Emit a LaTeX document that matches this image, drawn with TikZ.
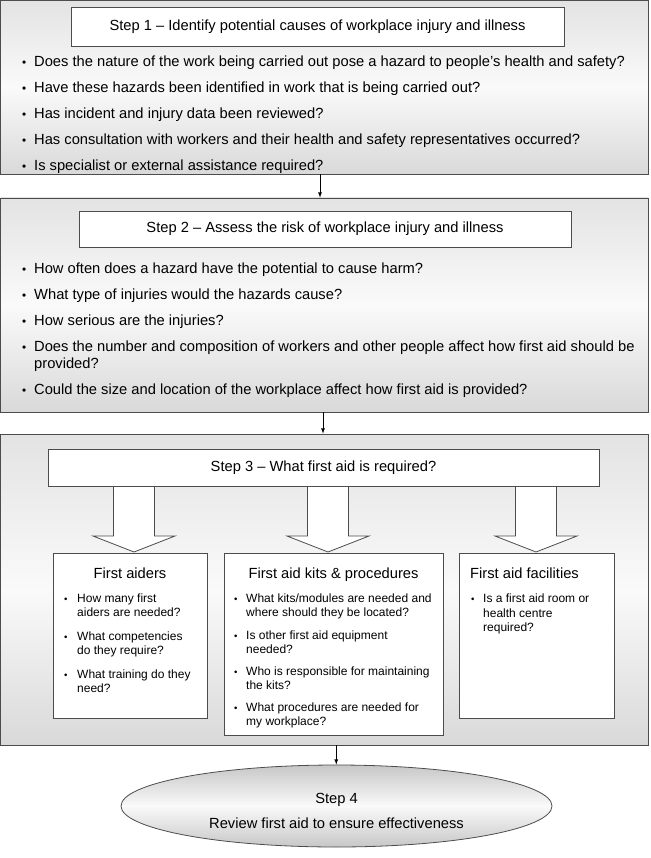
\documentclass[tikz,border=0pt]{standalone}
\usepackage{fontspec}
\setmainfont{Liberation Sans}
\usetikzlibrary{shapes.geometric,shadows}
\newcommand{\bul}[1]{\makebox[#1][l]{\scalebox{0.8}{\textbullet}}}

\begin{document}
\begin{tikzpicture}[x=1pt, y=-1pt,
    boxshadow/.style={drop shadow={shadow xshift=1.2pt, shadow yshift=-1.2pt, fill=black!55, opacity=1}},
    stepbox/.style={draw=black!70, line width=0.8pt, inner sep=0pt, boxshadow,
        top color=black!11, bottom color=black!15, middle color=black!2},
    titlebox/.style={draw=black!70, line width=0.8pt, inner sep=0pt, fill=white, boxshadow,
        text height=10.5pt, text depth=3pt, font=\fontsize{14.7}{17}\selectfont},
    subbox/.style={draw=black!70, line width=0.8pt, inner sep=0pt, fill=white, boxshadow},
    big/.style={anchor=west, inner sep=0pt, text height=10.5pt, text depth=3pt,
        font=\fontsize{14.7}{17}\selectfont},
    small/.style={anchor=west, inner sep=0pt, text height=8.6pt, text depth=2.5pt,
        font=\fontsize{12}{14}\selectfont},
    link/.style={-latex, line width=0.8pt},
]
\useasboundingbox (0,0) rectangle (650,858);

% Step 1
\node[stepbox, minimum width=647.5pt, minimum height=173.5pt] (s1) at (324.25,87.25) {};
\node[titlebox, minimum width=493pt, minimum height=39pt] (t1) at (317.5,26.5)
    {Step 1 -- Identify potential causes of workplace injury and illness};
\node[big] (i11) at (22,63) {\bul{12pt}Does the nature of the work being carried out pose a hazard to people’s health and safety?};
\node[big] (i12) at (22,89) {\bul{12pt}Have these hazards been identified in work that is being carried out?};
\node[big] (i13) at (22,115) {\bul{12pt}Has incident and injury data been reviewed?};
\node[big] (i14) at (22,141) {\bul{12pt}Has consultation with workers and their health and safety representatives occurred?};
\node[big] (i15) at (22,167) {\bul{12pt}Is specialist or external assistance required?};

% Step 2
\node[stepbox, minimum width=647.5pt, minimum height=214pt] (s2) at (324.25,305) {};
\node[titlebox, minimum width=492pt, minimum height=36pt] (t2) at (325,229)
    {Step 2 -- Assess the risk of workplace injury and illness};
\node[big] (i21) at (22,270) {\bul{12pt}How often does a hazard have the potential to cause harm?};
\node[big] (i22) at (22,296) {\bul{12pt}What type of injuries would the hazards cause?};
\node[big] (i23) at (22,322) {\bul{12pt}How serious are the injuries?};
\node[big] (i24) at (22,348) {\bul{12pt}Does the number and composition of workers and other people affect how first aid should be};
\node[big] (i25) at (34,365) {provided?};
\node[big] (i26) at (22,391) {\bul{12pt}Could the size and location of the workplace affect how first aid is provided?};

% Step 3
\node[stepbox, minimum width=647.5pt, minimum height=311pt] (s3) at (324.25,589.5) {};
\node[titlebox, minimum width=551pt, minimum height=37pt] (t3) at (323.5,467.5)
    {Step 3 -- What first aid is required?};
\foreach \cx in {134,328,536}
    \draw[draw=black!70, line width=0.8pt, fill=white]
        (\cx-20.5,487) -- (\cx-20.5,536) -- (\cx-41,536) -- (\cx,552)
        -- (\cx+41,536) -- (\cx+20.5,536) -- (\cx+20.5,487);

\node[subbox, minimum width=154pt, minimum height=165pt] (fa) at (130,635.5) {};
\node[subbox, minimum width=219pt, minimum height=182pt] (kit) at (333.5,644) {};
\node[subbox, minimum width=155pt, minimum height=165pt] (fac) at (536.5,635.5) {};

\node[big, anchor=center] (fah) at (130,575) {First aiders};
\node[small] (fa1) at (64,599) {\bul{13pt}How many first};
\node[small] (fa2) at (77,613) {aiders are needed?};
\node[small] (fa3) at (64,637) {\bul{13pt}What competencies};
\node[small] (fa4) at (77,651) {do they require?};
\node[small] (fa5) at (64,675) {\bul{13pt}What training do they};
\node[small] (fa6) at (77,689) {need?};

\node[big, anchor=center] (kith) at (333.5,575) {First aid kits \& procedures};
\node[small] (kit1) at (234,599) {\bul{12pt}What kits/modules are needed and};
\node[small] (kit2) at (246,613) {where should they be located?};
\node[small] (kit3) at (234,636) {\bul{12pt}Is other first aid equipment};
\node[small] (kit4) at (246,650) {needed?};
\node[small] (kit5) at (234,672) {\bul{12pt}Who is responsible for maintaining};
\node[small] (kit6) at (246,686) {the kits?};
\node[small] (kit7) at (234,708) {\bul{12pt}What procedures are needed for};
\node[small] (kit8) at (246,722) {my workplace?};

\node[big] (fach) at (470,575) {First aid facilities};
\node[small] (fac1) at (471,599) {\bul{12pt}Is a first aid room or};
\node[small] (fac2) at (483,614) {health centre};
\node[small] (fac3) at (483,628) {required?};

% Step 4
\node[ellipse, draw=black!70, line width=0.8pt, inner sep=0pt,
    minimum width=431pt, minimum height=82pt,
    top color=black!22, bottom color=black!22, middle color=black!2] (s4) at (336.5,806) {};
\node[big, anchor=center] (s4a) at (336.5,800) {Step 4};
\node[big, anchor=center] (s4b) at (336.5,825) {Review first aid to ensure effectiveness};

% links
\draw[link] ([xshift=-4.25pt]s1.south) -- ([xshift=-4.25pt]s2.north);
\draw[link] ([xshift=-1.25pt]s2.south) -- ([xshift=-1.25pt]s3.north);
\draw[link] ([xshift=12pt]s3.south) -- ([xshift=12pt]s3.south |- s4.north);
\end{tikzpicture}
\end{document}
